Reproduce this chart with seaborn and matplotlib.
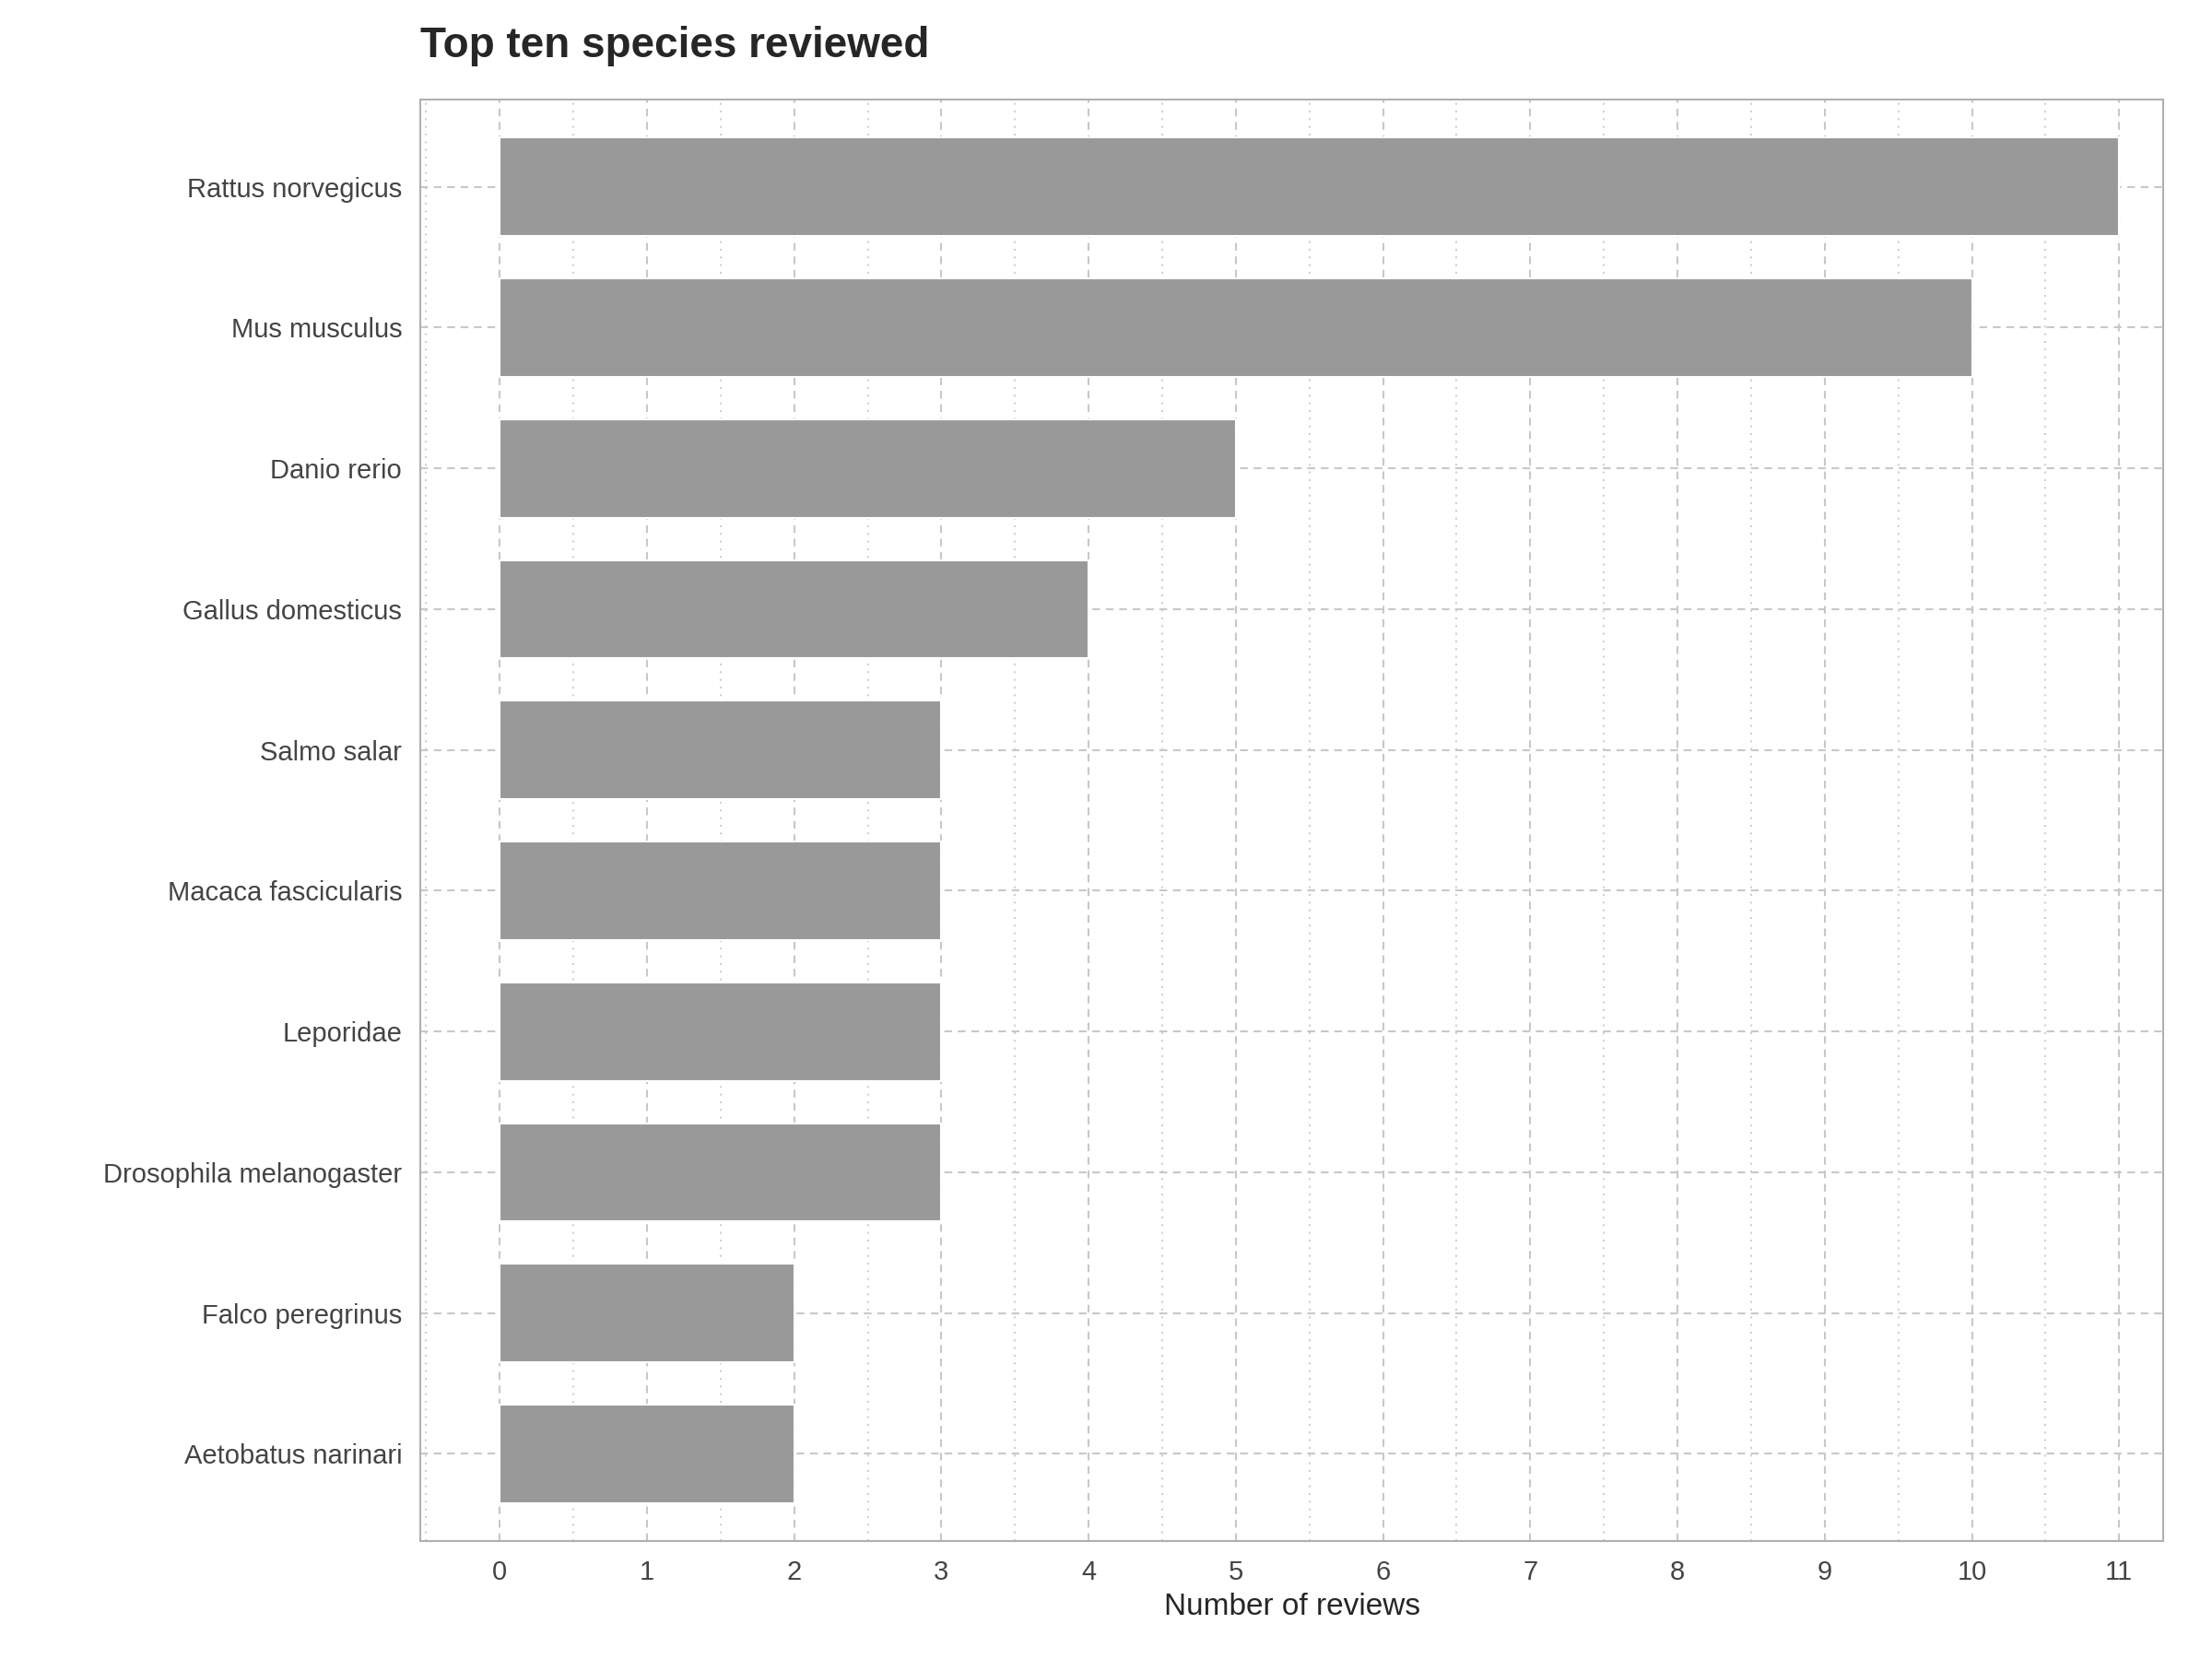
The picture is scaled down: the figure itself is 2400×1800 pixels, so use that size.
import matplotlib
matplotlib.use('Agg')
import matplotlib.pyplot as plt
import seaborn as sns
import pandas as pd
from matplotlib.ticker import MultipleLocator

species = ['Rattus norvegicus', 'Mus musculus', 'Danio rerio', 'Gallus domesticus',
           'Salmo salar', 'Macaca fascicularis', 'Leporidae',
           'Drosophila melanogaster', 'Falco peregrinus', 'Aetobatus narinari']
reviews = [11, 10, 5, 4, 3, 3, 3, 3, 2, 2]

df = pd.DataFrame({'species': species, 'reviews': reviews})

sns.set_style('white')
plt.rcParams['font.family'] = ['Liberation Sans', 'DejaVu Sans']

fig = plt.figure(figsize=(16, 12), dpi=150)
ax = fig.add_axes([0.19, 0.071, 0.788, 0.869])
sns.barplot(data=df, x='reviews', y='species', color='#999999', width=0.7,
            saturation=1, ax=ax, zorder=2)

ax.set_xlim(-0.54, 11.3)
ax.set_ylim(9.62, -0.62)
ax.xaxis.set_major_locator(MultipleLocator(1))
ax.xaxis.set_minor_locator(MultipleLocator(0.5))
ax.grid(which='major', axis='both', linestyle=(0, (4, 3)), color='#c8c8c8', linewidth=1, zorder=0)
ax.grid(which='minor', axis='x', linestyle=(0, (1, 3)), color='#d0d0d0', linewidth=1, zorder=0)
ax.set_axisbelow(True)
for s in ax.spines.values():
    s.set_color('#b0b0b0')
    s.set_linewidth(1)
ax.tick_params(axis='both', which='major', length=6, color='#b0b0b0',
               labelsize=14, labelcolor='#444444')
ax.tick_params(axis='x', which='minor', length=0)
ax.set_ylabel('')
ax.set_xlabel('Number of reviews', fontsize=16, labelpad=4)
ax.set_title('Top ten species reviewed', fontsize=22, fontweight='bold',
             loc='left', pad=22)

fig.savefig('out.png', dpi=150)
